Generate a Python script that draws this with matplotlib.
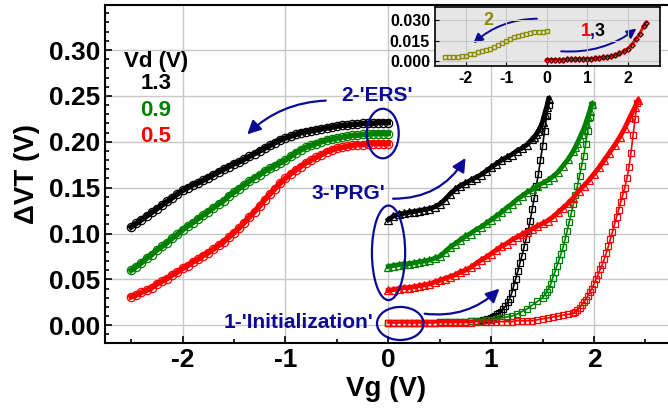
import matplotlib
matplotlib.use("Agg")
import matplotlib.pyplot as plt
from matplotlib.patches import Ellipse, FancyArrowPatch
from matplotlib.ticker import MultipleLocator, FormatStrFormatter

plt.rcParams['font.family'] = ['Liberation Sans', 'DejaVu Sans']
plt.rcParams['font.weight'] = 'bold'
plt.rcParams['axes.unicode_minus'] = False

NAVY = '#0a0a96'
OLIVE = '#8c8c00'

# ERS sweep (circles), Vg from -2.5 to 0
vg_ers = [-2.50, -2.45, -2.40, -2.35, -2.30, -2.25, -2.20, -2.15, -2.10, -2.05,
          -2.00, -1.95, -1.90, -1.85, -1.80, -1.75, -1.70, -1.65, -1.60, -1.55,
          -1.50, -1.45, -1.40, -1.35, -1.30, -1.25, -1.20, -1.15, -1.10, -1.05,
          -1.00, -0.95, -0.90, -0.85, -0.80, -0.75, -0.70, -0.65, -0.60, -0.55,
          -0.50, -0.45, -0.40, -0.35, -0.30, -0.25, -0.20, -0.15, -0.10, -0.05, 0.00]
ers_13 = [0.107, 0.111, 0.115, 0.119, 0.123, 0.127, 0.131, 0.135, 0.139, 0.143,
          0.147, 0.150, 0.153, 0.155, 0.158, 0.161, 0.164, 0.167, 0.170, 0.173,
          0.176, 0.178, 0.181, 0.184, 0.187, 0.190, 0.193, 0.196, 0.199, 0.202,
          0.204, 0.206, 0.208, 0.210, 0.211, 0.212, 0.213, 0.214, 0.215, 0.216,
          0.217, 0.218, 0.218, 0.219, 0.219, 0.220, 0.220, 0.220, 0.221, 0.221, 0.221]
ers_09 = [0.060, 0.064, 0.068, 0.073, 0.077, 0.082, 0.086, 0.090, 0.095, 0.099,
          0.104, 0.108, 0.112, 0.116, 0.120, 0.124, 0.128, 0.132, 0.136, 0.141,
          0.145, 0.149, 0.153, 0.157, 0.161, 0.164, 0.168, 0.171, 0.174, 0.177,
          0.180, 0.184, 0.188, 0.191, 0.194, 0.196, 0.198, 0.200, 0.202, 0.203,
          0.204, 0.205, 0.206, 0.207, 0.207, 0.208, 0.208, 0.209, 0.209, 0.209, 0.209]
ers_05 = [0.031, 0.033, 0.036, 0.038, 0.041, 0.045, 0.048, 0.051, 0.055, 0.058,
          0.062, 0.065, 0.069, 0.072, 0.076, 0.079, 0.083, 0.087, 0.091, 0.096,
          0.101, 0.106, 0.112, 0.118, 0.124, 0.130, 0.137, 0.143, 0.149, 0.155,
          0.160, 0.165, 0.169, 0.173, 0.177, 0.180, 0.183, 0.186, 0.189, 0.191,
          0.193, 0.194, 0.195, 0.196, 0.197, 0.197, 0.198, 0.198, 0.198, 0.198, 0.198]

# PRG sweep (triangles)
vg_prg_13 = [0.00, 0.05, 0.10, 0.15, 0.20, 0.25, 0.30, 0.35, 0.40, 0.45, 0.50, 0.55,
             0.60, 0.65, 0.70, 0.75, 0.80, 0.85, 0.90, 0.95, 1.00, 1.05, 1.10, 1.15,
             1.20, 1.25, 1.30, 1.35, 1.40, 1.42, 1.44, 1.46, 1.48, 1.50, 1.52, 1.54, 1.56]
prg_13 = [0.115, 0.119, 0.121, 0.122, 0.123, 0.124, 0.125, 0.126, 0.127, 0.129, 0.132, 0.137,
          0.143, 0.148, 0.152, 0.155, 0.158, 0.161, 0.164, 0.168, 0.172, 0.176, 0.180, 0.183,
          0.186, 0.190, 0.193, 0.197, 0.203, 0.205, 0.208, 0.212, 0.216, 0.222, 0.230, 0.238, 0.247]
vg_prg_09 = [0.00, 0.05, 0.10, 0.15, 0.20, 0.25, 0.30, 0.35, 0.40, 0.45, 0.50, 0.55,
             0.60, 0.65, 0.70, 0.75, 0.80, 0.85, 0.90, 0.95, 1.00, 1.05, 1.10, 1.15,
             1.20, 1.25, 1.30, 1.35, 1.40, 1.45, 1.50, 1.55, 1.60, 1.65, 1.70, 1.75,
             1.80, 1.82, 1.84, 1.86, 1.88, 1.90, 1.92, 1.94, 1.96, 1.98]
prg_09 = [0.064, 0.065, 0.066, 0.067, 0.067, 0.068, 0.069, 0.070, 0.071, 0.073, 0.075, 0.080,
          0.085, 0.089, 0.093, 0.097, 0.100, 0.104, 0.107, 0.111, 0.115, 0.119, 0.123, 0.128,
          0.132, 0.137, 0.141, 0.145, 0.148, 0.152, 0.155, 0.158, 0.162, 0.167, 0.174, 0.181,
          0.190, 0.194, 0.199, 0.204, 0.209, 0.214, 0.220, 0.227, 0.234, 0.241]
vg_prg_05 = [0.00, 0.05, 0.10, 0.15, 0.20, 0.25, 0.30, 0.35, 0.40, 0.45, 0.50, 0.55,
             0.60, 0.65, 0.70, 0.75, 0.80, 0.85, 0.90, 0.95, 1.00, 1.05, 1.10, 1.15,
             1.20, 1.25, 1.30, 1.35, 1.40, 1.45, 1.50, 1.55, 1.60, 1.65, 1.70, 1.75,
             1.80, 1.85, 1.90, 1.95, 2.00, 2.05, 2.10, 2.15, 2.20, 2.25, 2.30, 2.35, 2.40, 2.43]
prg_05 = [0.038, 0.039, 0.040, 0.041, 0.041, 0.042, 0.043, 0.044, 0.045, 0.047, 0.049, 0.051,
          0.053, 0.055, 0.058, 0.060, 0.063, 0.067, 0.071, 0.074, 0.078, 0.082, 0.086, 0.089,
          0.093, 0.096, 0.099, 0.102, 0.105, 0.108, 0.111, 0.114, 0.118, 0.123, 0.128, 0.133,
          0.139, 0.146, 0.152, 0.158, 0.165, 0.172, 0.180, 0.188, 0.196, 0.205, 0.215, 0.227, 0.238, 0.245]

# Initialization sweep (squares)
vg_ini_13 = [0.00, 0.05, 0.10, 0.15, 0.20, 0.25, 0.30, 0.35, 0.40, 0.45, 0.50, 0.55,
             0.60, 0.65, 0.70, 0.75, 0.80, 0.85, 0.90, 0.92, 0.94, 0.96, 0.98, 1.00,
             1.02, 1.04, 1.06, 1.08, 1.10, 1.12, 1.14, 1.16, 1.18, 1.20, 1.22, 1.24,
             1.26, 1.28, 1.30, 1.32, 1.34, 1.36, 1.38, 1.40, 1.42, 1.44, 1.46, 1.48,
             1.50, 1.52, 1.54, 1.56]
ini_13 = [0.003, 0.003, 0.003, 0.003, 0.003, 0.003, 0.003, 0.003, 0.003, 0.003, 0.004, 0.004,
          0.004, 0.004, 0.004, 0.004, 0.005, 0.005, 0.005, 0.006, 0.006, 0.007, 0.007, 0.008,
          0.009, 0.010, 0.012, 0.013, 0.015, 0.018, 0.021, 0.025, 0.029, 0.035, 0.043, 0.051,
          0.059, 0.068, 0.076, 0.085, 0.094, 0.103, 0.114, 0.127, 0.139, 0.152, 0.165, 0.180,
          0.195, 0.212, 0.228, 0.240]
vg_ini_09 = [0.00, 0.05, 0.10, 0.15, 0.20, 0.25, 0.30, 0.35, 0.40, 0.45, 0.50, 0.55,
             0.60, 0.65, 0.70, 0.75, 0.80, 0.85, 0.90, 0.95, 1.00, 1.05, 1.10, 1.15,
             1.20, 1.25, 1.30, 1.35, 1.40, 1.45, 1.50, 1.52, 1.54, 1.56, 1.58, 1.60,
             1.62, 1.64, 1.66, 1.68, 1.70, 1.72, 1.74, 1.76, 1.78, 1.80, 1.82, 1.84,
             1.86, 1.88, 1.90, 1.92, 1.94, 1.96, 1.98]
ini_09 = [0.003, 0.003, 0.003, 0.003, 0.003, 0.003, 0.003, 0.003, 0.003, 0.003, 0.004, 0.004,
          0.004, 0.004, 0.004, 0.004, 0.005, 0.005, 0.005, 0.006, 0.006, 0.007, 0.008, 0.009,
          0.010, 0.012, 0.015, 0.018, 0.022, 0.026, 0.030, 0.033, 0.036, 0.040, 0.045, 0.052,
          0.058, 0.065, 0.071, 0.078, 0.085, 0.094, 0.103, 0.113, 0.122, 0.132, 0.142, 0.152,
          0.163, 0.174, 0.185, 0.198, 0.212, 0.227, 0.240]
vg_ini_05 = [0.00, 0.05, 0.10, 0.15, 0.20, 0.25, 0.30, 0.35, 0.40, 0.45, 0.50, 0.55,
             0.60, 0.65, 0.70, 0.75, 0.80, 0.85, 0.90, 0.95, 1.00, 1.05, 1.10, 1.15,
             1.20, 1.25, 1.30, 1.35, 1.40, 1.45, 1.50, 1.55, 1.60, 1.65, 1.70, 1.75,
             1.80, 1.82, 1.84, 1.86, 1.88, 1.90, 1.92, 1.94, 1.96, 1.98, 2.00, 2.02,
             2.04, 2.06, 2.08, 2.10, 2.12, 2.14, 2.16, 2.18, 2.20, 2.22, 2.24, 2.26,
             2.28, 2.30, 2.32, 2.34, 2.36, 2.38, 2.40, 2.42]
ini_05 = [0.003, 0.003, 0.003, 0.003, 0.003, 0.003, 0.003, 0.003, 0.003, 0.003, 0.003, 0.003,
          0.003, 0.003, 0.003, 0.003, 0.003, 0.004, 0.004, 0.004, 0.004, 0.004, 0.004, 0.004,
          0.004, 0.005, 0.005, 0.005, 0.005, 0.006, 0.007, 0.008, 0.009, 0.010, 0.011, 0.012,
          0.013, 0.015, 0.017, 0.019, 0.022, 0.025, 0.028, 0.032, 0.036, 0.040, 0.045, 0.050,
          0.055, 0.061, 0.066, 0.072, 0.079, 0.086, 0.094, 0.102, 0.110, 0.118, 0.126, 0.134,
          0.142, 0.150, 0.160, 0.172, 0.188, 0.207, 0.225, 0.242]

# inset curves
vg_in_ers = [-2.5, -2.4, -2.3, -2.2, -2.1, -2.0, -1.9, -1.8, -1.7, -1.6, -1.5, -1.4, -1.3,
             -1.2, -1.1, -1.0, -0.9, -0.8, -0.7, -0.6, -0.5, -0.4, -0.3, -0.2, -0.1, 0.0]
in_ers = [0.003, 0.003, 0.003, 0.003, 0.004, 0.004, 0.005, 0.0055, 0.0065, 0.007, 0.008, 0.009,
          0.0105, 0.012, 0.0135, 0.015, 0.0165, 0.0175, 0.0185, 0.0193, 0.020, 0.0205, 0.021,
          0.0213, 0.0215, 0.022]
vg_in_fwd = [0.0, 0.1, 0.2, 0.3, 0.4, 0.5, 0.6, 0.7, 0.8, 0.9, 1.0, 1.1, 1.2, 1.3, 1.4,
             1.5, 1.6, 1.7, 1.8, 1.9, 2.0, 2.1, 2.2, 2.3, 2.4, 2.45]
in_fwd = [0.001, 0.001, 0.001, 0.001, 0.001, 0.0012, 0.0012, 0.0013, 0.0014, 0.0015, 0.0017,
          0.0018, 0.002, 0.0023, 0.0027, 0.003, 0.0037, 0.0045, 0.0056, 0.007, 0.009, 0.012,
          0.016, 0.020, 0.026, 0.028]

vd_labels = ['1.3', '0.9', '0.5']
colors = ['black', '#008000', '#ff0000']

fig = plt.figure(figsize=(6.68, 4.08), dpi=100)
ax = fig.add_axes([0.157, 0.1586, 0.843, 0.829])

ers = [ers_13, ers_09, ers_05]
prg = [(vg_prg_13, prg_13), (vg_prg_09, prg_09), (vg_prg_05, prg_05)]
ini = [(vg_ini_13, ini_13), (vg_ini_09, ini_09), (vg_ini_05, ini_05)]
for i in range(3):
    c = colors[i]
    # dense overlapping markers in the original -> a band under the markers
    ax.plot(vg_ers, ers[i], '-', color=c, lw=4, zorder=3)
    ax.plot(vg_ers, ers[i], 'o', ms=6, mfc='none', mec=c, mew=0.9, zorder=3)
    ax.plot(ini[i][0], ini[i][1], '-', color=c, lw=1.2, zorder=3)
    ax.plot(ini[i][0], ini[i][1], 's', ms=5, mfc='none', mec=c, mew=0.9, zorder=3)
    ax.plot(prg[i][0], prg[i][1], '-', color=c, lw=3.5, zorder=3)
    ax.plot(prg[i][0], prg[i][1], '^', ms=6, mfc='none', mec=c, mew=0.9, zorder=3)

ax.set_xlim(-2.755, 2.72)
ax.set_ylim(-0.0196, 0.349)
ax.xaxis.set_major_locator(MultipleLocator(1))
ax.xaxis.set_minor_locator(MultipleLocator(0.5))
ax.yaxis.set_major_locator(MultipleLocator(0.05))
ax.yaxis.set_minor_locator(MultipleLocator(0.01))
ax.yaxis.set_major_formatter(FormatStrFormatter('%.2f'))
ax.tick_params(which='both', direction='in', labelsize=19, width=1.2)
ax.tick_params(which='major', length=5)
ax.tick_params(which='minor', length=3)
ax.grid(True, which='major', color='#c8c8c8', lw=1)
ax.set_axisbelow(True)
for s in ['left', 'bottom', 'top']:
    ax.spines[s].set_linewidth(1.5)
ax.spines['right'].set_visible(False)
ax.set_xlabel('Vg (V)', fontsize=20, fontweight='bold', labelpad=3)
ax.set_ylabel('ΔVT (V)', fontsize=20, fontweight='bold', labelpad=6)

# Vd legend
ax.text(-2.26, 0.288, 'Vd (V)', fontsize=16, ha='center', va='center')
for i in range(3):
    ax.text(-2.26, 0.263 - 0.0285 * i, vd_labels[i], color=colors[i], fontsize=16,
            ha='center', va='center')

# annotations
ax.text(0.243, 0.250, "2-'ERS'", color=NAVY, fontsize=15, ha='right', va='center')
ax.text(-0.03, 0.144, "3-'PRG'", color=NAVY, fontsize=15, ha='right', va='center')
ax.text(-0.146, 0.0036, "1-'Initialization'", color=NAVY, fontsize=15, ha='right', va='center')

for cx, cy, w, h in [(-0.053, 0.209, 0.31, 0.054), (0.003, 0.079, 0.323, 0.103),
                     (0.117, 0.002, 0.453, 0.036)]:
    ax.add_patch(Ellipse((cx, cy), w, h, fill=False, ec=NAVY, lw=1.6, zorder=5))

for p0, p1, r in [((-0.58, 0.245), (-1.39, 0.206), 0.2), ((0.02, 0.138), (0.765, 0.185), 0.3),
                  ((0.327, 0.013), (1.10, 0.042), 0.25)]:
    ax.add_patch(FancyArrowPatch(p0, p1, connectionstyle=f'arc3,rad={r}', arrowstyle='-|>',
                                 mutation_scale=20, color=NAVY, lw=1.6, zorder=6))

# inset
ins = fig.add_axes([0.651, 0.838, 0.337, 0.1446])
ins.set_facecolor('#e6e6e6')
ins.plot(vg_in_ers, in_ers, 's', ms=3.5, mfc='none', mec=OLIVE, mew=1)
ins.plot(vg_in_fwd, in_fwd, '-', color='red', lw=2)
ins.plot(vg_in_fwd, in_fwd, 'D', ms=3, mfc='none', mec='red', mew=0.9)
ins.plot(vg_in_fwd, in_fwd, 'o', ms=2.5, mfc='none', mec='black', mew=0.7)
ins.set_xlim(-2.76, 2.80)
ins.set_ylim(-0.0037, 0.0395)
ins.xaxis.set_major_locator(MultipleLocator(1))
ins.yaxis.set_major_locator(MultipleLocator(0.015))
ins.yaxis.set_major_formatter(FormatStrFormatter('%.3f'))
ins.tick_params(direction='in', labelsize=11.5, length=3)
ins.grid(True, color='#c8c8c8', lw=0.8)
for s in ins.spines.values():
    s.set_linewidth(1.2)
ins.text(-1.45, 0.030, '2', color=OLIVE, fontsize=13, ha='center', va='center')
ins.text(0.98, 0.0214, '1', color='red', fontsize=13, ha='center', va='center')
ins.text(1.14, 0.0214, ',', color=NAVY, fontsize=13, ha='center', va='center')
ins.text(1.32, 0.0214, '3', color='black', fontsize=13, ha='center', va='center')
ins.add_patch(FancyArrowPatch((-0.17, 0.031), (-1.86, 0.0117), connectionstyle='arc3,rad=0.2',
                              arrowstyle='-|>', mutation_scale=14, color=NAVY, lw=1.4))
ins.add_patch(FancyArrowPatch((0.29, 0.0073), (2.27, 0.025), connectionstyle='arc3,rad=0.2',
                              arrowstyle='-|>', mutation_scale=14, color=NAVY, lw=1.4))

fig.savefig('out.png', dpi=100)
